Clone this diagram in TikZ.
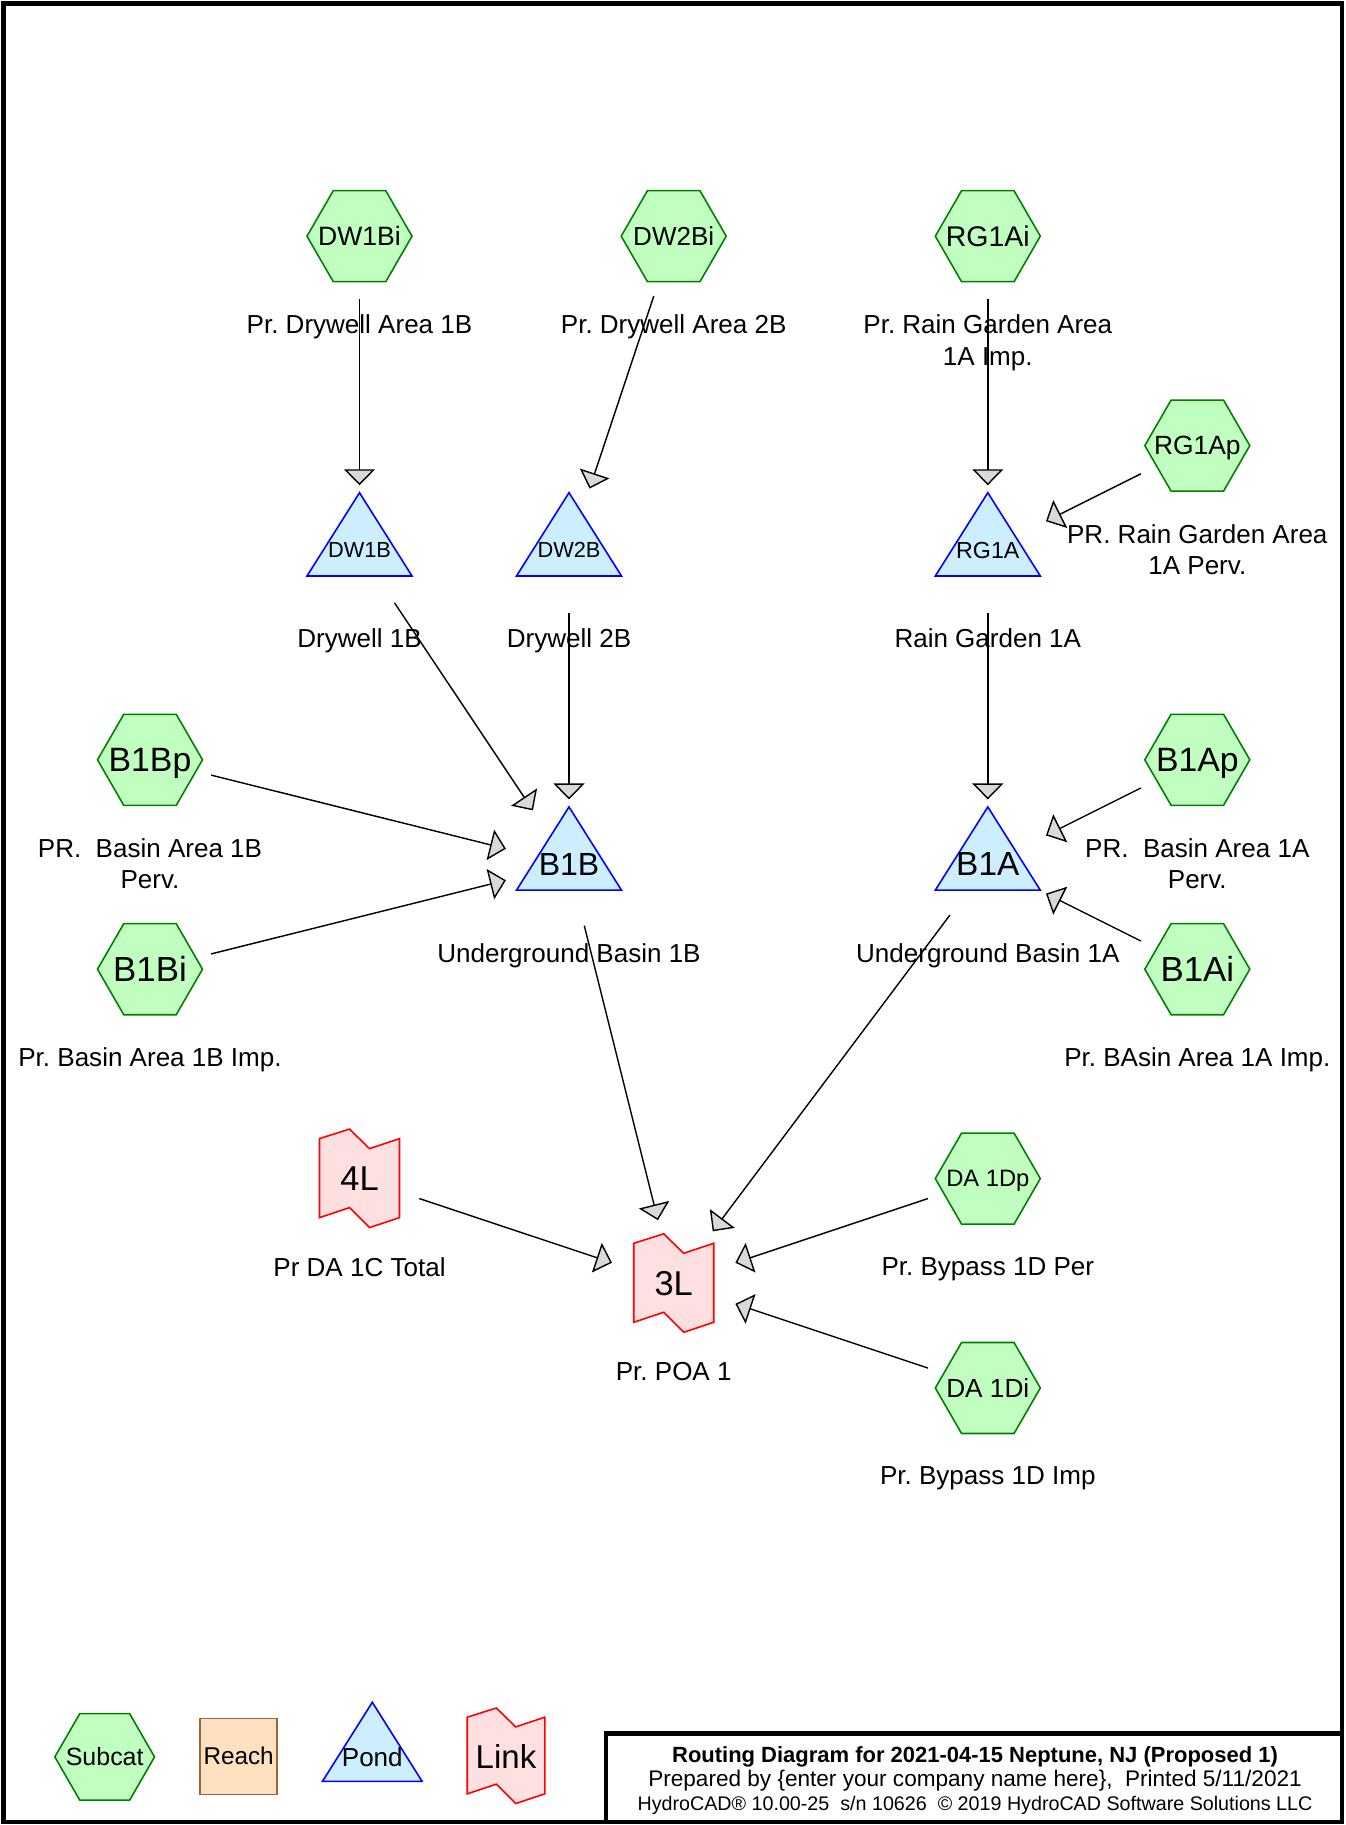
\documentclass[tikz,border=0pt]{standalone}
\usepackage{fontspec}
\setmainfont{Liberation Sans}
\usetikzlibrary{arrows.meta}
\pgfdeclarelayer{background}
\pgfsetlayers{background,main}
\frenchspacing
\newcommand{\fsz}[1]{\fontsize{#1}{#1}\selectfont}
\definecolor{hexfill}{RGB}{192,255,192}
\definecolor{hexedge}{RGB}{0,128,0}
\definecolor{pondfill}{RGB}{204,238,255}
\definecolor{pondedge}{RGB}{0,0,255}
\definecolor{linkfill}{RGB}{255,224,224}
\definecolor{linkedge}{RGB}{255,0,0}
\definecolor{reachfill}{RGB}{255,224,192}
\definecolor{reachedge}{RGB}{153,102,51}
\definecolor{tipgray}{RGB}{217,217,217}
\tikzset{
  nodename/.style={inner sep=0pt, text depth=0pt},
  hexline/.style={draw=hexedge, fill=hexfill, line width=0.45pt},
  pondtri/.style={draw=pondedge, fill=pondfill, line width=0.45pt},
  linkbox/.style={draw=linkedge, fill=linkfill, line width=0.45pt},
  lbl/.style={anchor=north, inner sep=0pt, align=center, font=\fontsize{7.4}{8.93}\selectfont},
  ttl/.style={anchor=base, inner sep=0pt},
  flow/.style={-{Triangle[length=1.6mm,width=3.1mm,fill=tipgray]}, line width=0.4pt,
    shorten <=0.63cm, shorten >=0.65cm},
}
\begin{document}
\begin{tikzpicture}[x=0.01cm,y=-0.01cm]
\useasboundingbox (0,0) rectangle (1345,1825);

% subcatchments
\node[nodename, font=\fsz{7.55}] (dw1bi) at (359.5,236.2) {DW1Bi};
\node[nodename, font=\fsz{7.4}] (dw2bi) at (673.7,236.2) {DW2Bi};
\node[nodename, font=\fsz{8.1}] (rg1ai) at (987.8,236.2) {RG1Ai};
\node[nodename, font=\fsz{7.5}] (rg1ap) at (1197.3,445.6) {RG1Ap};
\node[nodename, font=\fsz{9.6}] (b1bp) at (150,759.8) {B1Bp};
\node[nodename, font=\fsz{9.6}] (b1ap) at (1197.3,759.8) {B1Ap};
\node[nodename, font=\fsz{9.9}] (b1bi) at (150,969.2) {B1Bi};
\node[nodename, font=\fsz{9.9}] (b1ai) at (1197.3,969.2) {B1Ai};
\node[nodename, font=\fsz{6.75}] (da1dp) at (987.8,1178.6) {DA 1Dp};
\node[nodename, font=\fsz{7.45}] (da1di) at (987.8,1388) {DA 1Di};

% ponds
\node[nodename, font=\fsz{6.2}] (dw1b) at (359.5,550.3) {DW1B};
\node[nodename, font=\fsz{6.2}] (dw2b) at (569,550.3) {DW2B};
\node[nodename, font=\fsz{6.6}] (rg1a) at (987.8,550.3) {RG1A};
\node[nodename, font=\fsz{9.1}] (b1b) at (569,864.5) {B1B};
\node[nodename, font=\fsz{9.5}] (b1a) at (987.8,864.5) {B1A};

% links
\node[nodename, font=\fsz{9.8}] (l4) at (359.5,1178.6) {4L};
\node[nodename, font=\fsz{9.8}] (l3) at (673.7,1283.3) {3L};

% legend
\node[nodename, font=\fsz{7.1}] (lgsub) at (104.7,1756.9) {Subcat};
\node[draw=reachedge, fill=reachfill, line width=0.45pt, minimum width=0.77cm,
  minimum height=0.76cm, inner sep=0pt, font=\fsz{6.9}] (lgreach) at (238.6,1756.3) {Reach};
\node[nodename, font=\fsz{7.4}] (lgpond) at (372.3,1757) {Pond};
\node[nodename, font=\fsz{9.4}] (lglink) at (506,1756) {Link};

\begin{pgfonlayer}{background}
\foreach \h/\s in {dw1bi/1,dw2bi/1,rg1ai/1,rg1ap/1,b1bp/1,b1ap/1,b1bi/1,b1ai/1,da1dp/1,da1di/1,lgsub/0.95}
  \draw[hexline, shift={(\h)}, scale=\s] (52.5,0) -- (26.25,-45.5) -- (-26.25,-45.5)
    -- (-52.5,0) -- (-26.25,45.5) -- (26.25,45.5) -- cycle;
\foreach \p/\s in {dw1b/1,dw2b/1,rg1a/1,b1b/1,b1a/1,lgpond/0.95}
  \draw[pondtri, shift={(\p)}, scale=\s] (0,-57.6) -- (52.5,25.7) -- (-52.5,25.7) -- cycle;
\foreach \l/\s in {l4/1,l3/1,lglink/0.97}
  \draw[linkbox, shift={(\l)}, scale=\s] (-40,-40) -- (-10,-49.5) -- (10,-30) -- (40,-40)
    -- (40,39) -- (10,49) -- (-10,29) -- (-40,39) -- cycle;
\end{pgfonlayer}

% names under the nodes
\node[lbl] (dw1bi-t) at ([yshift=-7.8mm]dw1bi.center) {Pr. Drywell Area 1B};
\node[lbl] (dw2bi-t) at ([yshift=-7.8mm]dw2bi.center) {Pr. Drywell Area 2B};
\node[lbl] (rg1ai-t) at ([yshift=-7.8mm]rg1ai.center) {Pr. Rain Garden Area\\1A Imp.};
\node[lbl] (rg1ap-t) at ([yshift=-7.8mm]rg1ap.center) {PR. Rain Garden Area\\1A Perv.};
\node[lbl] (dw1b-t) at ([yshift=-7.8mm]dw1b.center) {Drywell 1B};
\node[lbl] (dw2b-t) at ([yshift=-7.8mm]dw2b.center) {Drywell 2B};
\node[lbl] (rg1a-t) at ([yshift=-7.8mm]rg1a.center) {Rain Garden 1A};
\node[lbl] (b1bp-t) at ([yshift=-7.8mm]b1bp.center) {PR.\ \ Basin Area 1B\\Perv.};
\node[lbl] (b1ap-t) at ([yshift=-7.8mm]b1ap.center) {PR.\ \ Basin Area 1A\\Perv.};
\node[lbl] (b1b-t) at ([yshift=-7.8mm]b1b.center) {Underground Basin 1B};
\node[lbl] (b1a-t) at ([yshift=-7.8mm]b1a.center) {Underground Basin 1A};
\node[lbl] (b1bi-t) at ([yshift=-7.8mm]b1bi.center) {Pr. Basin Area 1B Imp.};
\node[lbl] (b1ai-t) at ([yshift=-7.8mm]b1ai.center) {Pr. BAsin Area 1A Imp.};
\node[lbl] (l4-t) at ([yshift=-7.8mm]l4.center) {Pr DA 1C Total};
\node[lbl] (l3-t) at ([yshift=-7.8mm]l3.center) {Pr. POA 1};
\node[lbl] (da1dp-t) at ([yshift=-7.8mm]da1dp.center) {Pr. Bypass 1D Per};
\node[lbl] (da1di-t) at ([yshift=-7.8mm]da1di.center) {Pr. Bypass 1D Imp};

% routing
\draw[flow] (dw1bi.center) -- (dw1b.center);
\draw[flow] (dw2bi.center) -- (dw2b.center);
\draw[flow] (rg1ai.center) -- (rg1a.center);
\draw[flow] (rg1ap.center) -- (rg1a.center);
\draw[flow] (dw1b.center) -- (b1b.center);
\draw[flow] (dw2b.center) -- (b1b.center);
\draw[flow] (rg1a.center) -- (b1a.center);
\draw[flow] (b1bp.center) -- (b1b.center);
\draw[flow] (b1bi.center) -- (b1b.center);
\draw[flow] (b1ap.center) -- (b1a.center);
\draw[flow] (b1ai.center) -- (b1a.center);
\draw[flow] (b1b.center) -- (l3.center);
\draw[flow] (b1a.center) -- (l3.center);
\draw[flow] (l4.center) -- (l3.center);
\draw[flow] (da1dp.center) -- (l3.center);
\draw[flow] (da1di.center) -- (l3.center);

% frame and title block
\draw[line width=1.4pt] (3.5,3.5) rectangle (1342,1822);
\draw[line width=1.3pt] (606,1733.5) rectangle (1342,1822);
\node[ttl, font=\bfseries\fsz{6.25}] (title1) at (975,1762) {Routing Diagram for 2021-04-15 Neptune, NJ (Proposed 1)};
\node[ttl, font=\fsz{6.42}] (title2) at (975,1786.5) {Prepared by \{enter your company name here\},\ \ Printed 5/11/2021};
\node[ttl, font=\fsz{5.6}] (title3) at (975,1810.5) {HydroCAD® 10.00-25\ \ s/n 10626\ \ © 2019 HydroCAD Software Solutions LLC};
\end{tikzpicture}
\end{document}
